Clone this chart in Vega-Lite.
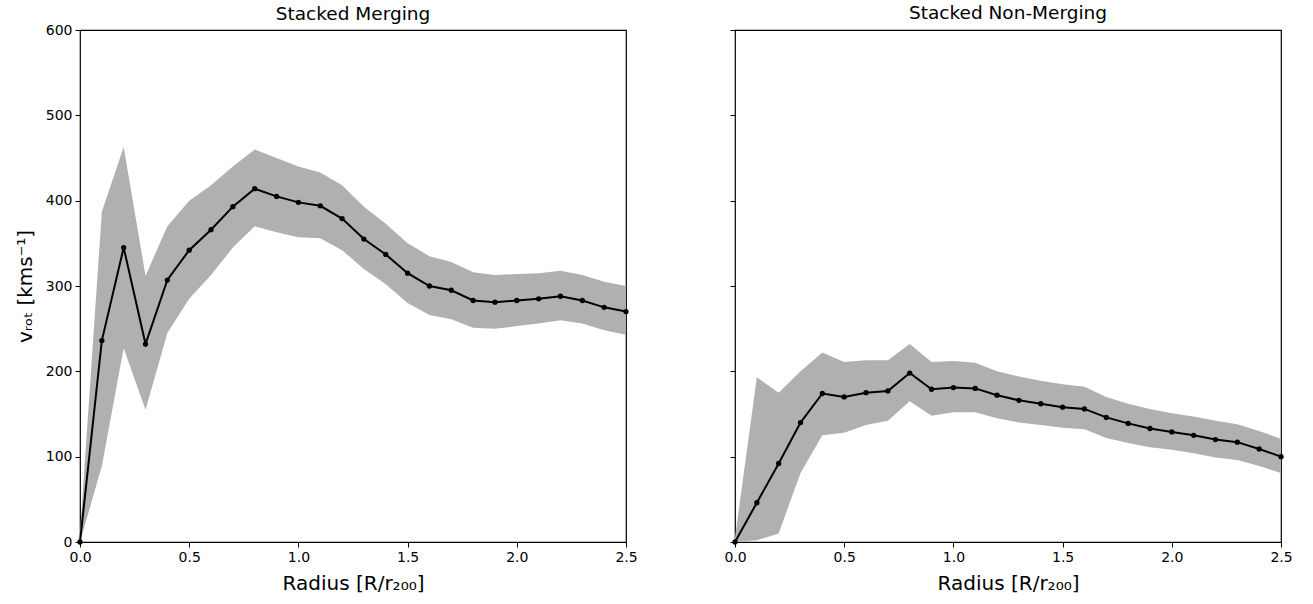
{
  "$schema": "https://vega.github.io/schema/vega-lite/v6.json",
  "background": "white",
  "padding": {"left": 14, "top": 3, "right": 5, "bottom": 5},
  "config": {
    "font": "DejaVu Sans",
    "view": {"stroke": "black", "strokeWidth": 1.2},
    "axis": {
      "grid": false,
      "domain": false,
      "tickColor": "black",
      "tickSize": 5,
      "tickWidth": 1,
      "labelColor": "black",
      "labelFont": "DejaVu Sans",
      "labelFontSize": 14,
      "labelPadding": 3,
      "labelFlush": false,
      "titleFont": "DejaVu Sans",
      "titleFontSize": 20,
      "titleFontWeight": "normal",
      "titleColor": "black"
    },
    "title": {"font": "DejaVu Sans", "fontSize": 18.5, "fontWeight": "normal", "color": "black"},
    "concat": {"spacing": 85}
  },
  "datasets": {
    "merging": [
      {"r": 0.0, "v": 0, "lo": 0, "hi": 10},
      {"r": 0.1, "v": 236, "lo": 89, "hi": 387},
      {"r": 0.2, "v": 345, "lo": 227, "hi": 463},
      {"r": 0.3, "v": 232, "lo": 155, "hi": 312},
      {"r": 0.4, "v": 307, "lo": 245, "hi": 370},
      {"r": 0.5, "v": 342, "lo": 285, "hi": 400},
      {"r": 0.6, "v": 366, "lo": 313, "hi": 418},
      {"r": 0.7, "v": 393, "lo": 345, "hi": 440},
      {"r": 0.8, "v": 414, "lo": 370, "hi": 460},
      {"r": 0.9, "v": 405, "lo": 363, "hi": 450},
      {"r": 1.0, "v": 398, "lo": 357, "hi": 440},
      {"r": 1.1, "v": 394, "lo": 356, "hi": 433},
      {"r": 1.2, "v": 379, "lo": 342, "hi": 418},
      {"r": 1.3, "v": 355, "lo": 320, "hi": 393},
      {"r": 1.4, "v": 337, "lo": 302, "hi": 373},
      {"r": 1.5, "v": 315, "lo": 280, "hi": 350},
      {"r": 1.6, "v": 300, "lo": 266, "hi": 335},
      {"r": 1.7, "v": 295, "lo": 261, "hi": 328},
      {"r": 1.8, "v": 283, "lo": 251, "hi": 316},
      {"r": 1.9, "v": 281, "lo": 250, "hi": 313},
      {"r": 2.0, "v": 283, "lo": 253, "hi": 314},
      {"r": 2.1, "v": 285, "lo": 256, "hi": 315},
      {"r": 2.2, "v": 288, "lo": 260, "hi": 318},
      {"r": 2.3, "v": 283, "lo": 256, "hi": 313},
      {"r": 2.4, "v": 275, "lo": 248, "hi": 305},
      {"r": 2.5, "v": 270, "lo": 243, "hi": 300}
    ],
    "nonmerging": [
      {"r": 0.0, "v": 0, "lo": 0, "hi": 5},
      {"r": 0.1, "v": 46, "lo": 2, "hi": 193},
      {"r": 0.2, "v": 92, "lo": 10, "hi": 175},
      {"r": 0.3, "v": 140, "lo": 81, "hi": 200},
      {"r": 0.4, "v": 174, "lo": 125, "hi": 222},
      {"r": 0.5, "v": 170, "lo": 128, "hi": 211},
      {"r": 0.6, "v": 175, "lo": 137, "hi": 213},
      {"r": 0.7, "v": 177, "lo": 142, "hi": 213},
      {"r": 0.8, "v": 198, "lo": 165, "hi": 232},
      {"r": 0.9, "v": 179, "lo": 148, "hi": 211},
      {"r": 1.0, "v": 181, "lo": 152, "hi": 212},
      {"r": 1.1, "v": 180, "lo": 152, "hi": 210},
      {"r": 1.2, "v": 172, "lo": 145, "hi": 200},
      {"r": 1.3, "v": 166, "lo": 140, "hi": 194},
      {"r": 1.4, "v": 162, "lo": 137, "hi": 189},
      {"r": 1.5, "v": 158, "lo": 134, "hi": 185},
      {"r": 1.6, "v": 156, "lo": 132, "hi": 182},
      {"r": 1.7, "v": 146, "lo": 122, "hi": 170},
      {"r": 1.8, "v": 139, "lo": 116, "hi": 162},
      {"r": 1.9, "v": 133, "lo": 111, "hi": 156},
      {"r": 2.0, "v": 129, "lo": 108, "hi": 151},
      {"r": 2.1, "v": 125, "lo": 104, "hi": 147},
      {"r": 2.2, "v": 120, "lo": 99, "hi": 142},
      {"r": 2.3, "v": 117, "lo": 96, "hi": 138},
      {"r": 2.4, "v": 109, "lo": 89, "hi": 130},
      {"r": 2.5, "v": 100, "lo": 81, "hi": 121}
    ]
  },
  "hconcat": [
    {
      "title": {"text": "Stacked Merging", "offset": 0},
      "width": 546,
      "height": 512,
      "data": {"name": "merging"},
      "encoding": {
        "x": {"field": "r", "type": "quantitative", "scale": {"domain": [0, 2.5], "nice": false}, "axis": {"values": [0, 0.5, 1, 1.5, 2, 2.5], "format": ".1f", "title": "Radius [R/r₂₀₀]", "titlePadding": 9}}
      },
      "layer": [
        {"mark": {"type": "area", "color": "#b0b0b0", "opacity": 1}, "encoding": {"y": {"field": "lo", "type": "quantitative", "scale": {"domain": [0, 600], "nice": false}, "axis": {"values": [0, 100, 200, 300, 400, 500, 600], "title": "vᵣₒₜ [kms⁻¹]", "titlePadding": 10}}, "y2": {"field": "hi"}}},
        {"mark": {"type": "line", "color": "black", "strokeWidth": 2, "point": {"filled": true, "color": "black", "size": 28}}, "encoding": {"y": {"field": "v", "type": "quantitative"}}}
      ]
    },
    {
      "title": {"text": "Stacked Non-Merging", "offset": 7},
      "width": 546,
      "height": 512,
      "data": {"name": "nonmerging"},
      "encoding": {
        "x": {"field": "r", "type": "quantitative", "scale": {"domain": [0, 2.5], "nice": false}, "axis": {"values": [0, 0.5, 1, 1.5, 2, 2.5], "format": ".1f", "title": "Radius [R/r₂₀₀]", "titlePadding": 9}}
      },
      "layer": [
        {"mark": {"type": "area", "color": "#b0b0b0", "opacity": 1}, "encoding": {"y": {"field": "lo", "type": "quantitative", "scale": {"domain": [0, 600], "nice": false}, "axis": {"values": [0, 100, 200, 300, 400, 500, 600], "labels": false, "title": null}}, "y2": {"field": "hi"}}},
        {"mark": {"type": "line", "color": "black", "strokeWidth": 2, "point": {"filled": true, "color": "black", "size": 28}}, "encoding": {"y": {"field": "v", "type": "quantitative"}}}
      ]
    }
  ]
}
